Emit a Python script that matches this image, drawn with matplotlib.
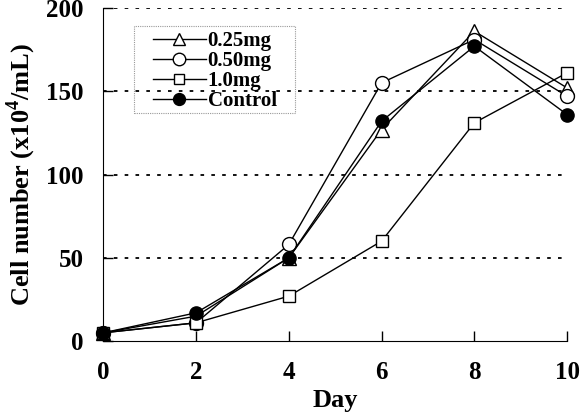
import matplotlib
matplotlib.use('Agg')
import matplotlib.pyplot as plt
from matplotlib.patches import Rectangle

days = [0, 2, 4, 6, 8, 10]
dose_025 = [5, 15, 50, 127, 186, 152]
dose_050 = [5, 11, 58, 155, 181, 147]
dose_100 = [5, 11, 27, 60, 131, 161]
control = [5, 17, 50, 132, 177, 136]

plt.rcParams['font.family'] = ['Liberation Serif', 'DejaVu Serif']
plt.rcParams['font.weight'] = 'bold'
plt.rcParams['mathtext.fontset'] = 'custom'
plt.rcParams['mathtext.rm'] = 'Liberation Serif:bold'
plt.rcParams['mathtext.bf'] = 'Liberation Serif:bold'

fig = plt.figure(figsize=(5.84, 4.15), dpi=100)
ax = fig.add_axes([0.177, 0.178, 0.794, 0.803])

series = [
    (dose_025, '^', 'white', 10, '0.25mg'),
    (dose_050, 'o', 'white', 10, '0.50mg'),
    (dose_100, 's', 'white', 8.5, '1.0mg'),
    (control, 'o', 'black', 9.5, 'Control'),
]
for vals, mk, fc, ms, label in series:
    ax.plot(days, vals, color='black', lw=1, marker=mk, ms=ms,
            mfc=fc, mec='black', mew=1, label=label, clip_on=False, zorder=3)

for y in [50, 100, 150, 200]:
    ax.axhline(y, color='black', lw=1.3, ls=(0, (2, 4)), zorder=1)

ax.set_xlim(0, 10)
ax.set_ylim(0, 200)
ax.set_xticks(days)
ax.set_yticks([0, 50, 100, 150, 200])
ax.spines['top'].set_visible(False)
ax.spines['right'].set_visible(False)
ax.tick_params(direction='in', length=7, width=1, labelsize=18)
ax.tick_params(axis='y', pad=14)
ax.tick_params(axis='x', pad=14)
ax.set_xlabel('Day', fontsize=19, fontweight='bold', labelpad=4)
ax.set_ylabel('Cell number (x10$^{\\mathrm{4}}$/mL)', fontsize=19,
              fontweight='bold', labelpad=6)

leg = ax.legend(loc='upper left', bbox_to_anchor=(0.108, 0.93),
                frameon=False, handlelength=2.5, handletextpad=0.1,
                labelspacing=0.0, borderpad=0, borderaxespad=0,
                markerscale=0.9, prop={'weight': 'bold', 'size': 15})
ax.add_patch(Rectangle((0.065, 0.685), 0.349, 0.261, transform=ax.transAxes,
                       fill=False, edgecolor='#999999', lw=0.8,
                       ls=(0, (1, 1)), zorder=4))

fig.savefig('out.png', dpi=100)
